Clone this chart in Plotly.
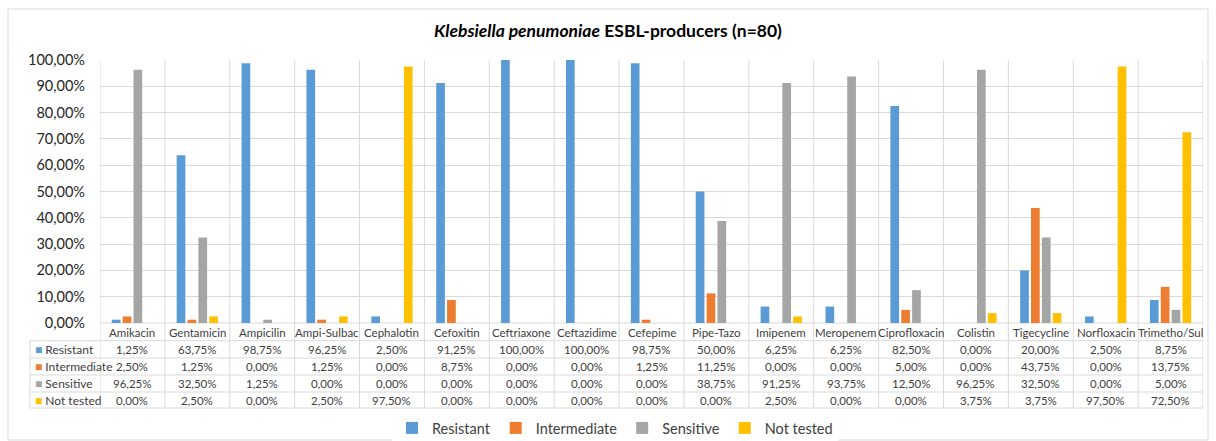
import plotly.graph_objects as go

categories = ["Amikacin", "Gentamicin", "Ampicilin", "Ampi-Sulbac", "Cephalotin",
              "Cefoxitin", "Ceftriaxone", "Ceftazidime", "Cefepime", "Pipe-Tazo",
              "Imipenem", "Meropenem", "Ciprofloxacin", "Colistin", "Tigecycline",
              "Norfloxacin", "Trimetho/Sul"]
resistant = [1.25, 63.75, 98.75, 96.25, 2.50, 91.25, 100.00, 100.00, 98.75, 50.00,
             6.25, 6.25, 82.50, 0.00, 20.00, 2.50, 8.75]
intermediate = [2.50, 1.25, 0.00, 1.25, 0.00, 8.75, 0.00, 0.00, 1.25, 11.25,
                0.00, 0.00, 5.00, 0.00, 43.75, 0.00, 13.75]
sensitive = [96.25, 32.50, 1.25, 0.00, 0.00, 0.00, 0.00, 0.00, 0.00, 38.75,
             91.25, 93.75, 12.50, 96.25, 32.50, 0.00, 5.00]
not_tested = [0.00, 2.50, 0.00, 2.50, 97.50, 0.00, 0.00, 0.00, 0.00, 0.00,
              2.50, 0.00, 0.00, 3.75, 3.75, 97.50, 72.50]
series_names = ["Resistant", "Intermediate", "Sensitive", "Not tested"]
series_values = [resistant, intermediate, sensitive, not_tested]
colors = ["#5B9BD5", "#ED7D31", "#A5A5A5", "#FFC000"]
y_ticks = [0, 10, 20, 30, 40, 50, 60, 70, 80, 90, 100]

FONT = "Lato"
GRID = "#D9D9D9"
TEXT = "#404040"

W, H = 1216, 441
L, R, T, B = 100, 13, 60, 118
plot_w = W - L - R
plot_h = H - T - B


def px_x(px):
    return (px - L) / plot_w


def px_y(py):
    return (H - B - py) / plot_h


def pct(v):
    return f"{v:.2f}".replace(".", ",") + "%"


fig = go.Figure()
for name, vals, col in zip(series_names, series_values, colors):
    fig.add_trace(go.Bar(x=categories, y=vals, name=name, marker_color=col,
                         marker_line_width=0))

shapes = []
annotations = []

# table grid: vertical lines at category boundaries
row_lines = [323, 340.7, 358, 375, 392, 408]
for i in range(len(categories) + 1):
    shapes.append(dict(type="line", xref="x", yref="paper",
                       x0=i - 0.5, x1=i - 0.5, y0=1, y1=px_y(408),
                       line=dict(color=GRID, width=1), layer="below"))
# horizontal table lines
for k, py in enumerate(row_lines):
    x_start = px_x(100) if k == 0 else px_x(30)
    shapes.append(dict(type="line", xref="paper", yref="paper",
                       x0=x_start, x1=1, y0=px_y(py), y1=px_y(py),
                       line=dict(color=GRID, width=1), layer="below"))
shapes.append(dict(type="line", xref="paper", yref="paper",
                   x0=px_x(30), x1=px_x(30), y0=px_y(340.7), y1=px_y(408),
                   line=dict(color=GRID, width=1), layer="below"))
# outer chart border
shapes.append(dict(type="rect", xref="paper", yref="paper",
                   x0=px_x(8), x1=px_x(1208), y0=px_y(440), y1=px_y(9),
                   line=dict(color="#D9D9D9", width=1), layer="below"))

# category row
for c in categories:
    annotations.append(dict(x=c, xref="x", y=px_y(332), yref="paper",
                            xanchor="center", yanchor="middle",
                            text=c, showarrow=False,
                            font=dict(family=FONT, size=11.5, color=TEXT)))

# value rows
row_centers = [349.5, 366.5, 383.5, 400]
for name, vals, col, yc in zip(series_names, series_values, colors, row_centers):
    annotations.append(dict(x=px_x(33), xref="paper", y=px_y(yc), yref="paper",
                            xanchor="left", yanchor="middle", showarrow=False,
                            text=f"<span style='color:{col}'>■</span> {name}",
                            font=dict(family=FONT, size=12, color=TEXT)))
    for c, v in zip(categories, vals):
        annotations.append(dict(x=c, xref="x", y=px_y(yc), yref="paper",
                                xanchor="center", yanchor="middle",
                                text=pct(v), showarrow=False,
                                font=dict(family=FONT, size=11.5, color=TEXT)))

fig.update_layout(
    width=W, height=H,
    margin=dict(l=L, r=R, t=T, b=B, autoexpand=False),
    paper_bgcolor="white", plot_bgcolor="white",
    barmode="group", bargap=0.33, bargroupgap=0.2,
    title=dict(text="<b><i>Klebsiella penumoniae</i> ESBL-producers (n=80)</b>",
               x=0.5, xanchor="center", y=1 - 31 / H, yanchor="middle",
               font=dict(family=FONT, size=17.5, color="#000000")),
    font=dict(family=FONT, color=TEXT),
    xaxis=dict(showticklabels=False, showgrid=False, showline=False,
               ticks="", range=[-0.5, len(categories) - 0.5]),
    yaxis=dict(range=[0, 100], tickvals=y_ticks,
               ticktext=[pct(v) for v in y_ticks],
               showgrid=True, gridcolor=GRID, gridwidth=1, zeroline=False,
               showline=False, ticks="", ticklen=0, ticklabelstandoff=14,
               tickfont=dict(family=FONT, size=14.5, color="#262626")),
    legend=dict(orientation="h", x=px_x(615), xanchor="center",
                y=px_y(428), yanchor="middle",
                font=dict(family=FONT, size=14.5, color=TEXT),
                itemwidth=30, traceorder="normal"),
    shapes=shapes,
    annotations=annotations,
)

fig.write_html("out.html")
